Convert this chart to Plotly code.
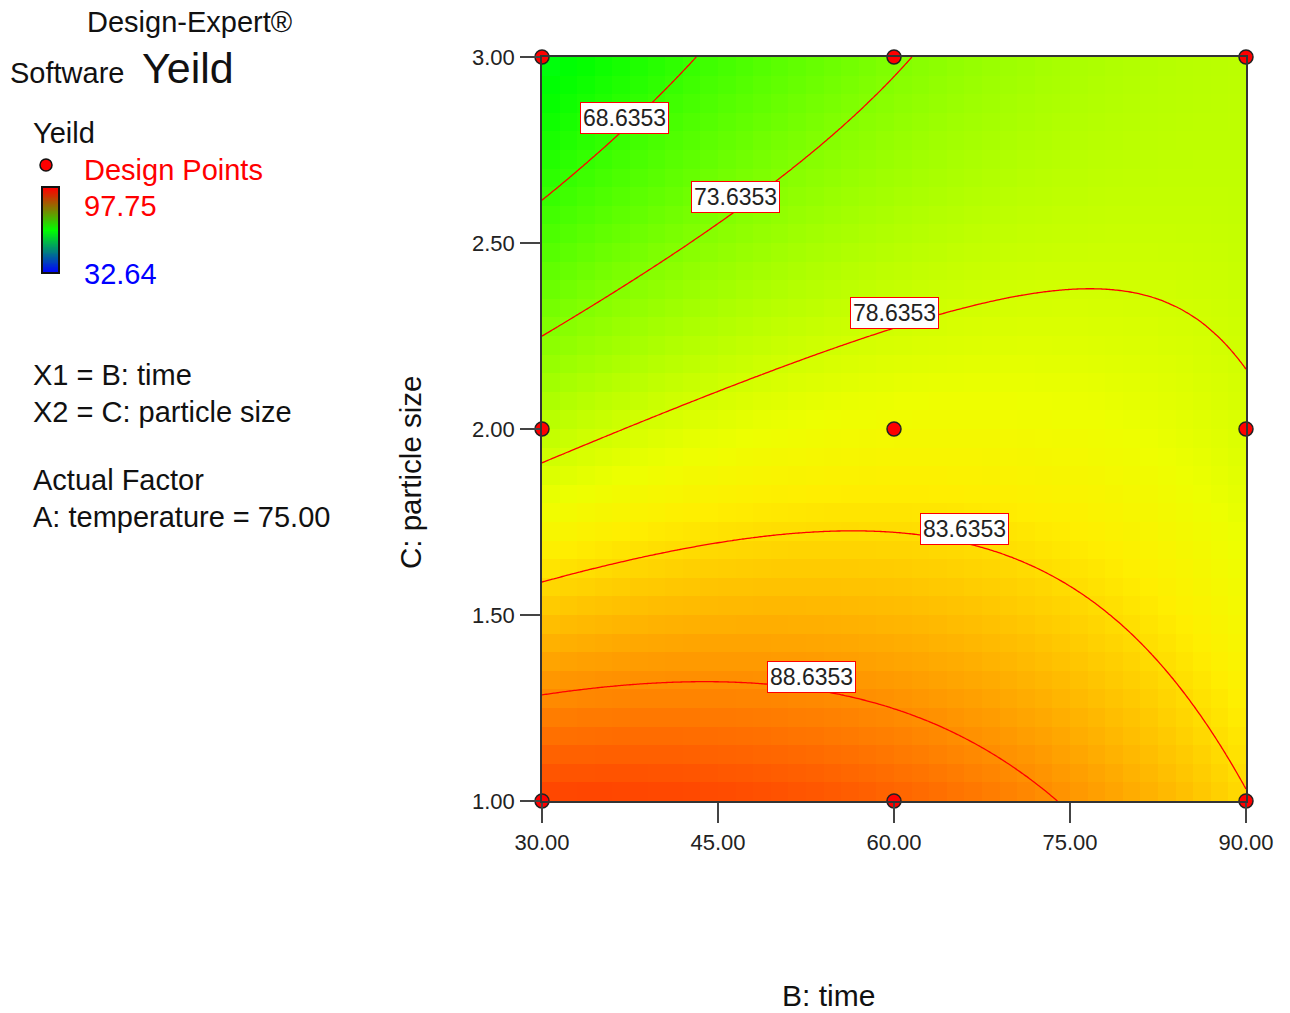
import colorsys
import numpy as np
import plotly.graph_objects as go

# ---- data -------------------------------------------------------------
# Factor ranges in actual units
time_range = [30.0, 90.0]          # B: time
size_range = [1.0, 3.0]            # C: particle size

# Final equation in coded factors (A: temperature held at 75.00)
model_terms = ["Intercept", "B", "C", "BC", "B^2", "C^2"]
model_coef = [81.0, 0.93, -9.1, 5.8, -2.8, 1.4]

# Response range on the colour legend
yield_low = 32.64
yield_high = 97.75

# Contour levels drawn on the map
contour_levels = [68.6353, 73.6353, 78.6353, 83.6353, 88.6353]

# Design points (B, C)
design_time = [30, 60, 90, 30, 60, 90, 30, 60, 90]
design_size = [1, 1, 1, 2, 2, 2, 3, 3, 3]

time_ticks = [30, 45, 60, 75, 90]
size_ticks = [1.0, 1.5, 2.0, 2.5, 3.0]


# ---- model --------------------------------------------------------------
def coded(v, lo_hi):
    lo, hi = lo_hi
    return (np.asarray(v, float) - (lo + hi) / 2.0) / ((hi - lo) / 2.0)


def predict(b, c):
    coef = dict(zip(model_terms, model_coef))
    x1 = coded(b, time_range)
    x2 = coded(c, size_range)
    return (coef["Intercept"] + coef["B"] * x1 + coef["C"] * x2
            + coef["BC"] * x1 * x2 + coef["B^2"] * x1 ** 2 + coef["C^2"] * x2 ** 2)


def size_on_level(b, level):
    cs = np.linspace(size_range[0], size_range[1], 2001)
    ys = predict(b, cs) - level
    idx = np.where(np.sign(ys[:-1]) != np.sign(ys[1:]))[0][0]
    c0, c1, y0, y1 = cs[idx], cs[idx + 1], ys[idx], ys[idx + 1]
    return c0 - y0 * (c1 - c0) / (y1 - y0)


# ---- page geometry helpers ---------------------------------------------
W, H = 1290, 1013
FONT = "Liberation Sans, Arial, sans-serif"


def px(x):
    return x / W


def py(y):
    return 1 - y / H


# Colour map: hue sweep blue -> green -> yellow -> red
n_stops = 31
hue_scale = []
for f in np.linspace(0, 1, n_stops):
    r, g, b = colorsys.hsv_to_rgb((240 * (1 - f)) / 360.0, 1, 1)
    hue_scale.append([float(f), f"rgb({int(r*255)},{int(g*255)},{int(b*255)})"])

# Blocky response map (cell centres)
ncol, nrow = 40, 40
bx = time_range[0] + (np.arange(ncol) + 0.5) * (time_range[1] - time_range[0]) / ncol
cy = size_range[0] + (np.arange(nrow) + 0.5) * (size_range[1] - size_range[0]) / nrow
BB, CC = np.meshgrid(bx, cy)
z_map = predict(BB, CC)

# Fine grid for contour lines
fx = np.linspace(time_range[0], time_range[1], 241)
fy = np.linspace(size_range[0], size_range[1], 241)
FB, FC = np.meshgrid(fx, fy)
z_fine = predict(FB, FC)

fig = go.Figure()

fig.add_trace(go.Heatmap(
    x=bx, y=cy, z=z_map, colorscale=hue_scale, zmin=yield_low, zmax=yield_high,
    zsmooth=False, showscale=False, hoverinfo="skip", xaxis="x", yaxis="y"))

fig.add_trace(go.Contour(
    x=fx, y=fy, z=z_fine, showscale=False, hoverinfo="skip",
    contours=dict(coloring="none", start=contour_levels[0], end=contour_levels[-1],
                  size=contour_levels[1] - contour_levels[0], showlabels=False),
    line=dict(color="#ff0000", width=1.3), xaxis="x", yaxis="y"))

fig.add_trace(go.Scatter(
    x=design_time, y=design_size, mode="markers", cliponaxis=False, hoverinfo="skip",
    marker=dict(size=14, color="#ff0000", line=dict(color="#222222", width=1.5)),
    xaxis="x", yaxis="y"))

# Gradient bar of the response legend
fig.add_trace(go.Heatmap(
    z=np.linspace(0, 1, 60).reshape(-1, 1), zsmooth="best", showscale=False,
    colorscale=[[0, "#0000ff"], [0.5, "#00ff00"], [1, "#ff0000"]],
    hoverinfo="skip", xaxis="x2", yaxis="y2"))

axis_common = dict(showgrid=False, zeroline=False, showline=True, mirror=True,
                   automargin=False,
                   linecolor="#333333", linewidth=1.5, ticks="outside", ticklen=20,
                   tickwidth=1.5, tickcolor="#444444", tickformat=".2f",
                   tickfont=dict(family=FONT, size=22, color="#222222"))

fig.update_layout(
    template="none",
    width=W, height=H, autosize=False,
    margin=dict(l=0, r=0, t=0, b=0, pad=0, autoexpand=False),
    paper_bgcolor="white", plot_bgcolor="white", showlegend=False,
    font=dict(family=FONT, color="#111111"),
    xaxis=dict(domain=[px(542), px(1246)], range=time_range, tickvals=time_ticks,
               ticklabelstandoff=1, **axis_common),
    yaxis=dict(domain=[py(801), py(57)], range=size_range, tickvals=size_ticks,
               ticklabelstandoff=1, **axis_common),
    xaxis2=dict(domain=[px(42), px(59)], visible=False, fixedrange=True, automargin=False),
    yaxis2=dict(domain=[py(273), py(187)], visible=False, fixedrange=True, automargin=False),
)

shapes = [
    dict(type="rect", xref="paper", yref="paper", x0=px(42), x1=px(59), y0=py(273), y1=py(187),
         line=dict(color="#111111", width=2)),
    dict(type="circle", xref="paper", yref="paper", x0=px(40), x1=px(52), y0=py(171), y1=py(159),
         fillcolor="#ff0000", line=dict(color="#111111", width=1.5)),
]
fig.update_layout(shapes=shapes)

ann = []


def text(x, y, s, size=29, color="#111111", anchor="left", angle=0):
    ann.append(dict(xref="paper", yref="paper", x=px(x), y=py(y), text=s, showarrow=False,
                    xanchor=anchor, yanchor="middle", textangle=angle,
                    font=dict(family=FONT, size=size, color=color)))


text(189, 22, "Design-Expert®", size=29, anchor="center")
text(8, 73, "Software", size=29)
text(140, 68, "Yeild", size=43)
text(31, 133, "Yeild")
text(82, 170, "Design Points", color="#ff0000")
text(82, 206, "97.75", color="#ff0000")
text(82, 274, "32.64", color="#0000ff")
text(31, 375, "X1 = B: time")
text(31, 412, "X2 = C: particle size")
text(31, 480, "Actual Factor")
text(31, 517, "A: temperature = 75.00")
text(828, 995, "B: time", size=30, anchor="center")
text(410, 473, "C: particle size", size=29.5, anchor="center", angle=-90)

# Level labels ride just above their contour lines at these times
label_times = [37.0, 46.5, 60.0, 66.0, 53.0]
label_lift = [11, 14, 15, 14, 12]
for lvl, bt, lift in zip(contour_levels, label_times, label_lift):
    ann.append(dict(xref="x", yref="y", x=bt, y=size_on_level(bt, lvl), yshift=lift,
                    text=f"{lvl:.4f}", showarrow=False, xanchor="center", yanchor="middle",
                    bgcolor="white", bordercolor="#ff0000", borderwidth=1, borderpad=2,
                    font=dict(family=FONT, size=23, color="#222222")))

fig.update_layout(annotations=ann)

fig.write_html("out.html", config={"responsive": False})
